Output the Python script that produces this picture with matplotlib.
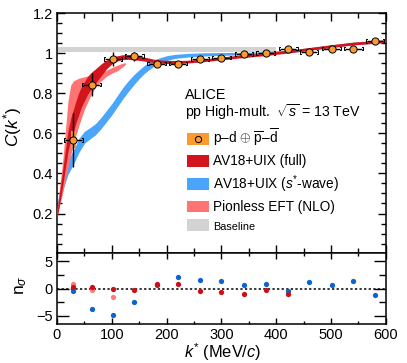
import numpy as np
import matplotlib
matplotlib.use("Agg")
import matplotlib.pyplot as plt
from matplotlib.patches import Patch
from matplotlib.lines import Line2D
from matplotlib.ticker import MultipleLocator, FormatStrFormatter

plt.rcParams["font.family"] = ["Liberation Sans", "DejaVu Sans"]
plt.rcParams["mathtext.fontset"] = "custom"
plt.rcParams["mathtext.rm"] = "Liberation Sans"
plt.rcParams["mathtext.it"] = "Liberation Sans:italic"
plt.rcParams["axes.unicode_minus"] = True

# ── data ────────────────────────────────────────────────────
# p-d correlation (ALICE)
k_data = [30, 63, 102, 141, 182, 221, 261, 300, 341, 381, 422, 460, 501, 541, 580]
c_data = [0.568, 0.843, 0.970, 0.985, 0.948, 0.948, 0.970, 0.978, 0.995, 1.000,
          1.023, 1.007, 1.023, 1.023, 1.062]
c_stat = [0.135, 0.058, 0.036, 0.022, 0.014, 0.012, 0.010, 0.010, 0.009, 0.009,
          0.009, 0.009, 0.009, 0.009, 0.009]
c_syst = [0.042, 0.015, 0.008, 0.006, 0.005, 0.005, 0.005, 0.005, 0.005, 0.005,
          0.005, 0.005, 0.005, 0.005, 0.005]

# AV18+UIX (full)
k_red = [0, 5, 10, 15, 20, 25, 30, 35, 40, 45, 50, 55, 60, 65, 70, 80, 90, 100,
         110, 120, 130, 140, 150, 160, 170, 180, 200, 220, 240, 260, 280, 300,
         340, 380, 420, 460, 500, 540, 580, 600]
c_red = [0.19, 0.28, 0.37, 0.465, 0.56, 0.62, 0.665, 0.71, 0.75, 0.785, 0.81,
         0.835, 0.855, 0.87, 0.885, 0.915, 0.943, 0.962, 0.974, 0.98, 0.981,
         0.979, 0.975, 0.97, 0.965, 0.96, 0.956, 0.956, 0.958, 0.963, 0.968,
         0.974, 0.985, 0.995, 1.007, 1.021, 1.035, 1.048, 1.056, 1.06]
w_red = [0.015, 0.03, 0.04, 0.045, 0.05, 0.055, 0.055, 0.055, 0.055, 0.05,
         0.048, 0.045, 0.042, 0.04, 0.036, 0.03, 0.022, 0.016, 0.013, 0.012,
         0.012, 0.012, 0.011, 0.01, 0.009, 0.008, 0.008, 0.007, 0.007, 0.007,
         0.007, 0.007, 0.007, 0.007, 0.007, 0.007, 0.007, 0.007, 0.007, 0.007]

# AV18+UIX (s*-wave)
k_blue = [0, 10, 20, 30, 40, 50, 60, 70, 80, 90, 100, 110, 120, 130, 140, 150,
          160, 170, 180, 190, 200, 215, 240, 270, 300, 340, 380, 420, 460, 500,
          540, 580, 600]
c_blue = [0.23, 0.34, 0.43, 0.48, 0.54, 0.58, 0.6, 0.62, 0.65, 0.685, 0.72,
          0.76, 0.8, 0.835, 0.867, 0.895, 0.92, 0.94, 0.955, 0.966, 0.975,
          0.984, 0.99, 0.994, 0.996, 0.998, 1.002, 1.009, 1.021, 1.035, 1.048,
          1.056, 1.06]
w_blue = [0.02, 0.03, 0.035, 0.035, 0.035, 0.03, 0.028, 0.028, 0.028, 0.028,
          0.028, 0.028, 0.028, 0.027, 0.025, 0.022, 0.02, 0.018, 0.015, 0.013,
          0.012, 0.01, 0.009, 0.008, 0.007, 0.006, 0.006, 0.006, 0.006, 0.006,
          0.006, 0.006, 0.006]

# Pionless EFT (NLO)
k_pink = [0, 10, 15, 20, 25, 30, 40, 50, 60, 70, 80, 90, 100, 110, 120, 125]
lo_pink = [0.19, 0.3, 0.37, 0.43, 0.49, 0.55, 0.64, 0.72, 0.78, 0.83, 0.86,
           0.885, 0.9, 0.912, 0.932, 0.945]
hi_pink = [0.22, 0.45, 0.6, 0.76, 0.84, 0.862, 0.875, 0.882, 0.89, 0.897,
           0.905, 0.915, 0.928, 0.94, 0.95, 0.952]

# Baseline
k_base = [0, 400]
c_base = [1.019, 1.019]
w_base = [0.012, 0.012]

# n_sigma
ns_red = [0.25, 0.25, 0.0, -0.2, 0.9, 0.9, -0.45, -0.55, -0.9, -0.2, -0.95]
ns_pink = [0.9, -0.3, -1.5]
ns_blue = [-0.5, -3.8, -4.75, -2.5, 0.7, 2.1, 1.5, 1.4, 0.6, 0.8, -0.45,
           1.2, 0.6, 1.45, -1.25]

col_red = "#d2151d"
col_blue = "#4aa5fb"
col_pink = "#ff7373"
col_gray = "#d3d3d3"
col_orange = "#f99b2e"

# ── figure ──────────────────────────────────────────────────
fig = plt.figure(figsize=(4.07, 3.63), dpi=100)
ax = fig.add_axes([0.140, 0.303, 0.808, 0.661])
axr = fig.add_axes([0.140, 0.107, 0.808, 0.196], sharex=ax)


def band(a, k, c, w, color, z):
    c = np.array(c)
    w = np.array(w)
    a.fill_between(k, c - w, c + w, color=color, lw=0, zorder=z)


band(ax, k_base, c_base, w_base, col_gray, 1)
band(ax, k_blue, c_blue, w_blue, col_blue, 2)
ax.fill_between(k_pink, lo_pink, hi_pink, color=col_pink, lw=0, zorder=3)
band(ax, k_red, c_red, w_red, col_red, 4)

# data: syst boxes, brackets, stat errors
kd = np.array(k_data)
cd = np.array(c_data)
for ki, ci, si in zip(k_data, c_data, c_syst):
    ax.fill_between([ki - 5, ki + 5], ci - si, ci + si, color=col_orange, lw=0, zorder=5)
dx, dy, tip = 17, 0.009, 2.2
for ki, ci in zip(k_data, c_data):
    ax.plot([ki - dx + tip, ki - dx, ki - dx, ki - dx + tip],
            [ci - dy, ci - dy, ci + dy, ci + dy], color="black", lw=0.7, zorder=6)
    ax.plot([ki + dx - tip, ki + dx, ki + dx, ki + dx - tip],
            [ci - dy, ci - dy, ci + dy, ci + dy], color="black", lw=0.7, zorder=6)
ax.errorbar(kd, cd, yerr=c_stat, xerr=15, fmt="none", ecolor="black",
            elinewidth=1.0, capsize=0, zorder=7)
ax.plot(kd, cd, "o", ms=5.2, mfc=col_orange, mec="black", mew=0.7, zorder=8)

# n_sigma panel
axr.axhline(0, color="black", lw=1.1, ls=(0, (1.5, 1.5)), zorder=1)
axr.plot(k_data, ns_blue, "o", ms=3.8, color="#0d63d1", mew=0, zorder=3)
axr.plot(k_data[:len(ns_pink)], ns_pink, "o", ms=3.8, color="#ff7c7c", mew=0, zorder=3)
axr.plot(k_data[:len(ns_red)], ns_red, "o", ms=3.8, color="#cf0d16", mew=0, zorder=4)

# axes styling
ax.set_xlim(0, 600)
ax.set_ylim(0.003, 1.2)
axr.set_ylim(-6.5, 6.5)
for a in (ax, axr):
    a.tick_params(which="both", direction="in", top=True, right=True, width=1.0)
    for s in a.spines.values():
        s.set_linewidth(1.1)
    a.xaxis.set_major_locator(MultipleLocator(100))
    a.xaxis.set_minor_locator(MultipleLocator(50))
ax.tick_params(which="major", length=6)
ax.tick_params(which="minor", length=3.3)
axr.tick_params(axis="y", which="major", length=8.5)
axr.tick_params(axis="y", which="minor", length=5)
axr.tick_params(axis="x", which="major", length=4)
axr.tick_params(axis="x", which="minor", length=2.3)
ax.yaxis.set_major_locator(MultipleLocator(0.2))
ax.yaxis.set_minor_locator(MultipleLocator(0.05))
ax.yaxis.set_major_formatter(FormatStrFormatter("%g"))
axr.yaxis.set_major_locator(MultipleLocator(5))
axr.yaxis.set_minor_locator(MultipleLocator(2.5))
ax.tick_params(labelbottom=False, labelsize=10.5, pad=3)
axr.tick_params(labelsize=10.5, pad=3)

fig.text(0.031, 0.65, r"$C(k^{*})$", rotation=90, ha="center", va="center", fontsize=12.5)
fig.text(0.052, 0.215, r"n$_{\sigma}$", rotation=90, ha="center", va="center", fontsize=12.5)
fig.text(0.548, 0.031, r"$k^{*}$ (MeV/$c$)", ha="center", va="center", fontsize=11.8)

# text + legend
ax.text(0.389, 0.658, "ALICE", transform=ax.transAxes, fontsize=10.4, va="center")
ax.text(0.389, 0.5875, r"pp High-mult.  $\sqrt{s}$ = 13 TeV", transform=ax.transAxes,
        fontsize=10.2, va="center")

handles = [
    (Patch(color=col_orange, lw=0),
     Line2D([], [], marker="o", ls="none", ms=4.5, mfc=col_orange, mec="black", mew=0.7)),
    Patch(color=col_red, lw=0),
    Patch(color=col_blue, lw=0),
    Patch(color=col_pink, lw=0),
    Patch(color=col_gray, lw=0),
]
labels = [r"p–d $\oplus$ $\overline{\mathrm{p}}$–$\overline{\mathrm{d}}$",
          "AV18+UIX (full)", r"AV18+UIX ($s^{*}$-wave)", "Pionless EFT (NLO)", "Baseline"]
leg = ax.legend(handles, labels, loc="upper left", bbox_to_anchor=(0.394, 0.525),
                frameon=False, fontsize=9.8, handlelength=1.65, handleheight=0.95,
                handletextpad=0.3, labelspacing=0.37, borderpad=0, borderaxespad=0)
leg.get_texts()[-1].set_fontsize(7.8)

fig.savefig("out.png", dpi=100)
